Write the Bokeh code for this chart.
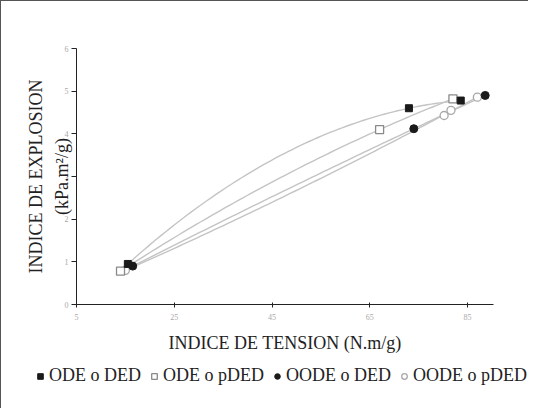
import numpy as np
from bokeh.plotting import figure
from bokeh.layouts import column
from bokeh.models import Legend, LegendItem, FixedTicker, Range1d
from bokeh.embed import file_html
from bokeh.resources import INLINE

# ---- data ----
series_names = ["ODE o DED", "ODE o pDED", "OODE o DED", "OODE o pDED"]
ode_ded_x = [15.5, 73.0, 83.6]
ode_ded_y = [0.95, 4.60, 4.78]
ode_pded_x = [14.0, 67.0, 82.0]
ode_pded_y = [0.78, 4.10, 4.82]
oode_ded_x = [16.5, 74.0, 88.6]
oode_ded_y = [0.90, 4.12, 4.90]
oode_pded_x = [15.0, 80.2, 81.6, 87.0]
oode_pded_y = [0.80, 4.43, 4.55, 4.86]
x_ticks = [5, 25, 45, 65, 85]
y_ticks = [0, 1, 2, 3, 4, 5, 6]

FONT = "Liberation Serif"

styles = [
    dict(marker="square", size=7, fill_color="#1a1a1a", line_color="#1a1a1a", line_width=1),
    dict(marker="square", size=8, fill_color="white", line_color="#8a8a8a", line_width=1.3),
    dict(marker="circle", size=8, fill_color="#1a1a1a", line_color="#1a1a1a", line_width=1),
    dict(marker="circle", size=8, fill_color="white", line_color="#a8a8a8", line_width=1.3),
]

p = figure(frame_width=417, frame_height=256, output_backend="svg", toolbar_location=None,
           x_range=Range1d(5, 90.3), y_range=Range1d(0, 6),
           min_border_left=75, min_border_right=35, min_border_top=47, min_border_bottom=62)
p.frame_align = False
p.background_fill_color = "white"
p.border_fill_color = "white"
p.outline_line_color = None
p.grid.visible = False

for ax in (p.xaxis[0], p.yaxis[0]):
    ax.axis_line_color = "#222222"
    ax.major_tick_line_color = "#222222"
    ax.minor_tick_line_color = None
    ax.major_label_text_font = FONT
    ax.major_label_text_font_size = "8px"
    ax.major_label_text_color = "#a8a8a8"
    ax.axis_label_text_font = FONT
    ax.axis_label_text_font_style = "normal"
    ax.axis_label_text_font_size = "18px"
    ax.axis_label_text_color = "#222222"

p.xaxis.ticker = FixedTicker(ticks=x_ticks)
p.yaxis.ticker = FixedTicker(ticks=y_ticks)
p.xaxis.major_tick_in = 2
p.xaxis.major_tick_out = 3
p.yaxis.major_tick_in = 0
p.yaxis.major_tick_out = 5
p.xaxis.major_label_standoff = 6
p.yaxis.major_label_standoff = 3
p.xaxis.axis_label = "INDICE DE TENSION (N.m/g)"
p.xaxis.axis_label_standoff = 10
p.yaxis.axis_label = "INDICE DE EXPLOSION\n(kPa.m\u00b2/g)"
p.yaxis.axis_label_standoff = -10
p.yaxis.axis_label_text_line_height = 1.3

all_series = [
    (ode_ded_x, ode_ded_y),
    (ode_pded_x, ode_pded_y),
    (oode_ded_x, oode_ded_y),
    (oode_pded_x, oode_pded_y),
]
# trend lines (quadratic fit of each series)
for xs, ys in all_series:
    coef = np.polyfit(xs, ys, 2)
    xx = np.linspace(min(xs), max(xs), 80)
    p.line(xx, np.polyval(coef, xx), line_color="#c4c4c4", line_width=1.4)

# markers (light open marks first so dark marks stay on top)
for i in (3, 1, 0, 2):
    xs, ys = all_series[i]
    p.scatter(xs, ys, **styles[i])

# legend strip below the chart (its glyphs use the same series, outside its view)
leg = figure(width=527, height=42, output_backend="svg", toolbar_location=None,
             x_range=Range1d(0, 1), y_range=Range1d(0, 1),
             x_axis_type=None, y_axis_type=None,
             min_border_left=0, min_border_right=0, min_border_top=0, min_border_bottom=0)
leg.frame_align = False
leg.outline_line_color = None
leg.grid.visible = False
leg.background_fill_color = "white"
leg.border_fill_color = "white"
items = []
for i, name in enumerate(series_names):
    xs, ys = all_series[i]
    st = dict(styles[i])
    st["size"] = 7
    r = leg.scatter(xs, ys, **st)
    items.append(LegendItem(label=name, renderers=[r], index=0))
legend = Legend(items=items, orientation="horizontal", location=(32, 22),
                label_text_font=FONT, label_text_font_size="18px",
                label_text_color="#222222", label_height=20,
                glyph_width=14, glyph_height=14, label_standoff=2, spacing=6,
                padding=0, margin=0, border_line_color=None,
                background_fill_alpha=0)
leg.add_layout(legend, "center")

layout = column(p, leg, spacing=0)
layout.styles = {"border-left": "1px solid #555555", "border-top": "1px solid #555555"}
open("out.html", "w").write(file_html(layout, INLINE))
